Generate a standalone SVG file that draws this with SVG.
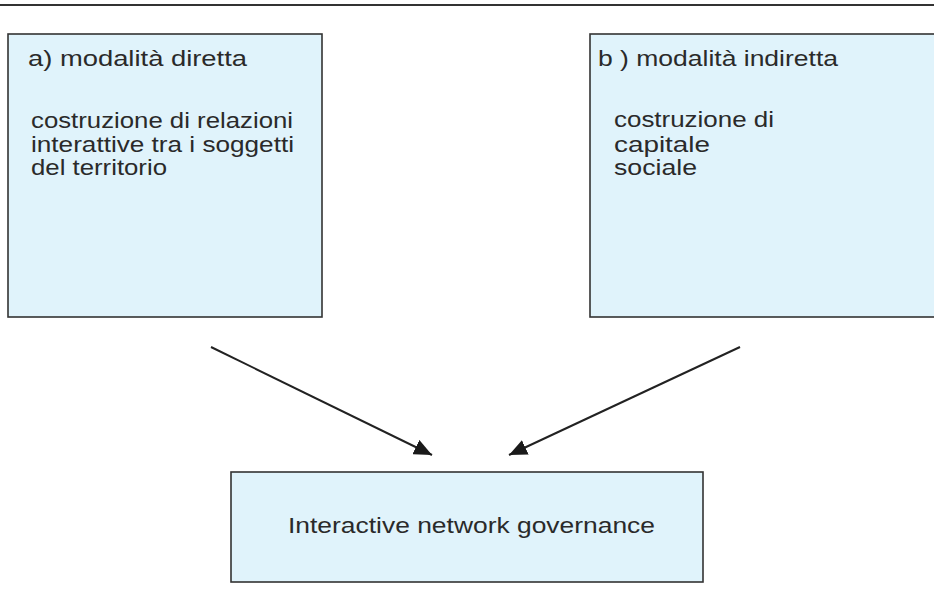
<svg xmlns="http://www.w3.org/2000/svg" width="934" height="602" viewBox="0 0 934 602">
<style>
.box{fill:#e0f3fb;stroke:#333;stroke-width:1.6}
.t{font-family:"Liberation Sans",Arial,sans-serif;font-size:22px;fill:#2a2a2a}
.conn{stroke:#222;stroke-width:2;fill:none}
</style>
<defs>
<marker id="ah" viewBox="0 0 18 16" refX="18" refY="8" markerWidth="18" markerHeight="16" markerUnits="userSpaceOnUse" orient="auto">
<path d="M0,0 L18,8 L0,16 Z" fill="#1a1a1a"/>
</marker>
</defs>
<rect width="934" height="602" fill="#fff"/>
<line x1="0" y1="5" x2="934" y2="5" stroke="#333" stroke-width="2"/>
<g id="node-a">
<rect class="box" x="8" y="34" width="314" height="283"/>
<text class="t" x="28" y="66" textLength="219" lengthAdjust="spacingAndGlyphs">a) modalità diretta</text>
<text class="t" x="31" y="128" textLength="262" lengthAdjust="spacingAndGlyphs">costruzione di relazioni</text>
<text class="t" x="31" y="152" textLength="263" lengthAdjust="spacingAndGlyphs">interattive tra i soggetti</text>
<text class="t" x="31" y="175" textLength="136" lengthAdjust="spacingAndGlyphs">del territorio</text>
</g>
<g id="node-b">
<rect class="box" x="590" y="34" width="360" height="283"/>
<text class="t" x="598" y="66" textLength="240" lengthAdjust="spacingAndGlyphs">b ) modalità indiretta</text>
<text class="t" x="614" y="127" textLength="160" lengthAdjust="spacingAndGlyphs">costruzione di</text>
<text class="t" x="614" y="152" textLength="96" lengthAdjust="spacingAndGlyphs">capitale</text>
<text class="t" x="614" y="175" textLength="83" lengthAdjust="spacingAndGlyphs">sociale</text>
</g>
<g id="node-c">
<rect class="box" x="231" y="472" width="472" height="110"/>
<text class="t" x="288" y="533" textLength="367" lengthAdjust="spacingAndGlyphs">Interactive network governance</text>
</g>
<g id="connectors">
<line class="conn" x1="211" y1="347" x2="432" y2="455" marker-end="url(#ah)"/>
<line class="conn" x1="740" y1="347" x2="509" y2="455" marker-end="url(#ah)"/>
</g>
</svg>
